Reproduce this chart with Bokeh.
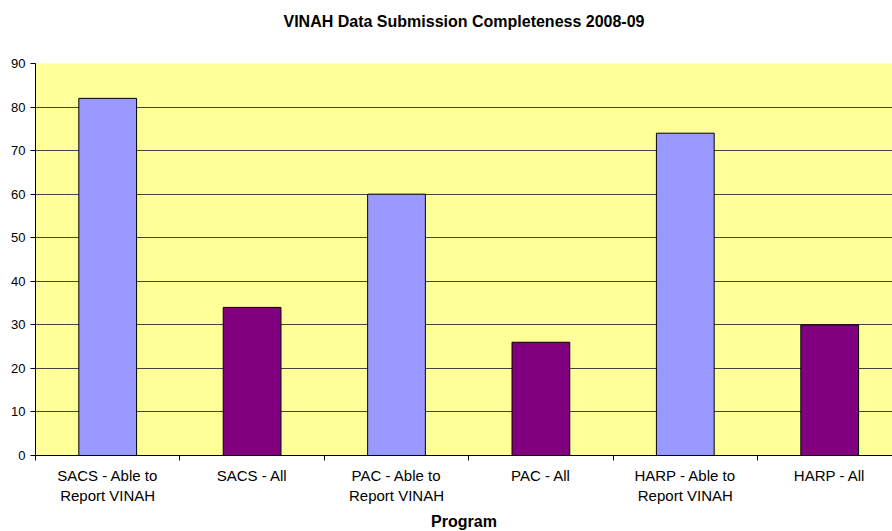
from bokeh.plotting import figure
from bokeh.models import Range1d, FixedTicker, LinearAxis
from bokeh.embed import file_html
from bokeh.resources import INLINE

title_text = "VINAH Data Submission Completeness 2008-09"
categories = ["SACS - Able to\nReport VINAH", "SACS - All", "PAC - Able to\nReport VINAH",
              "PAC - All", "HARP - Able to\nReport VINAH", "HARP - All"]
values = [82, 34, 60, 26, 74, 30]
colors = ["#9999FF", "#800080", "#9999FF", "#800080", "#9999FF", "#800080"]
y_ticks = [0, 10, 20, 30, 40, 50, 60, 70, 80, 90]

cat_px = 144.4
left = 35
top = 63
frame_h = 392
W, H = 892, 531
frame_w = W - left

p = figure(width=W, height=H, output_backend="svg", toolbar_location=None,
           x_range=Range1d(0, frame_w / cat_px), y_range=Range1d(0, 90))
p.frame_width = frame_w
p.frame_height = frame_h
p.min_border_left = left
p.min_border_right = 0
p.min_border_top = top
p.min_border_bottom = H - top - frame_h
p.outline_line_color = None
p.background_fill_color = "#FFFF99"
p.border_fill_color = "white"

# chart title drawn as the label of a bare axis above the frame
title_axis = LinearAxis(ticker=FixedTicker(ticks=[], minor_ticks=[]))
title_axis.axis_line_color = None
title_axis.major_tick_line_color = None
title_axis.minor_tick_line_color = None
title_axis.major_tick_out = 0
title_axis.major_tick_in = 0
title_axis.minor_tick_out = 0
title_axis.minor_tick_in = 0
title_axis.major_label_standoff = 0
title_axis.major_label_text_font_size = "0px"
title_axis.axis_label = title_text
title_axis.axis_label_text_font = "Liberation Sans"
title_axis.axis_label_text_font_style = "bold"
title_axis.axis_label_text_font_size = "16px"
title_axis.axis_label_text_color = "black"
title_axis.axis_label_standoff = 34
p.add_layout(title_axis, "above")

xs = [i + 0.5 for i in range(len(categories))]
p.vbar(x=xs, top=values, width=0.4, bottom=0, fill_color=colors, line_color="black", line_width=1)

# x axis
xaxis = p.below[0]
xaxis.ticker = FixedTicker(ticks=xs, minor_ticks=list(range(0, len(categories) + 1)))
xaxis.major_label_overrides = {x: c for x, c in zip(xs, categories)}
xaxis.major_tick_out = 0
xaxis.major_tick_in = 0
xaxis.minor_tick_out = 5
xaxis.minor_tick_in = 0
xaxis.minor_tick_line_color = "black"
xaxis.axis_line_color = "black"
xaxis.major_label_text_font = "Liberation Sans"
xaxis.major_label_text_font_size = "15px"
xaxis.major_label_text_color = "black"
xaxis.major_label_standoff = 6
xaxis.axis_label = "Program"
xaxis.axis_label_text_font = "Liberation Sans"
xaxis.axis_label_text_font_style = "bold"
xaxis.axis_label_text_font_size = "16px"
xaxis.axis_label_text_color = "black"
xaxis.axis_label_standoff = 6

# y axis
p.yaxis.ticker = FixedTicker(ticks=y_ticks, minor_ticks=[])
p.yaxis.major_tick_out = 5
p.yaxis.major_tick_in = 0
p.yaxis.major_tick_line_color = "black"
p.yaxis.axis_line_color = "black"
p.yaxis.major_label_text_font = "Liberation Sans"
p.yaxis.major_label_text_font_size = "13px"
p.yaxis.major_label_text_color = "black"
p.yaxis.major_label_standoff = 5

p.xgrid.grid_line_color = None
p.ygrid.ticker = FixedTicker(ticks=y_ticks)
p.ygrid.grid_line_color = "#444444"
p.ygrid.grid_line_width = 1

open("out.html", "w").write(file_html(p, INLINE))
